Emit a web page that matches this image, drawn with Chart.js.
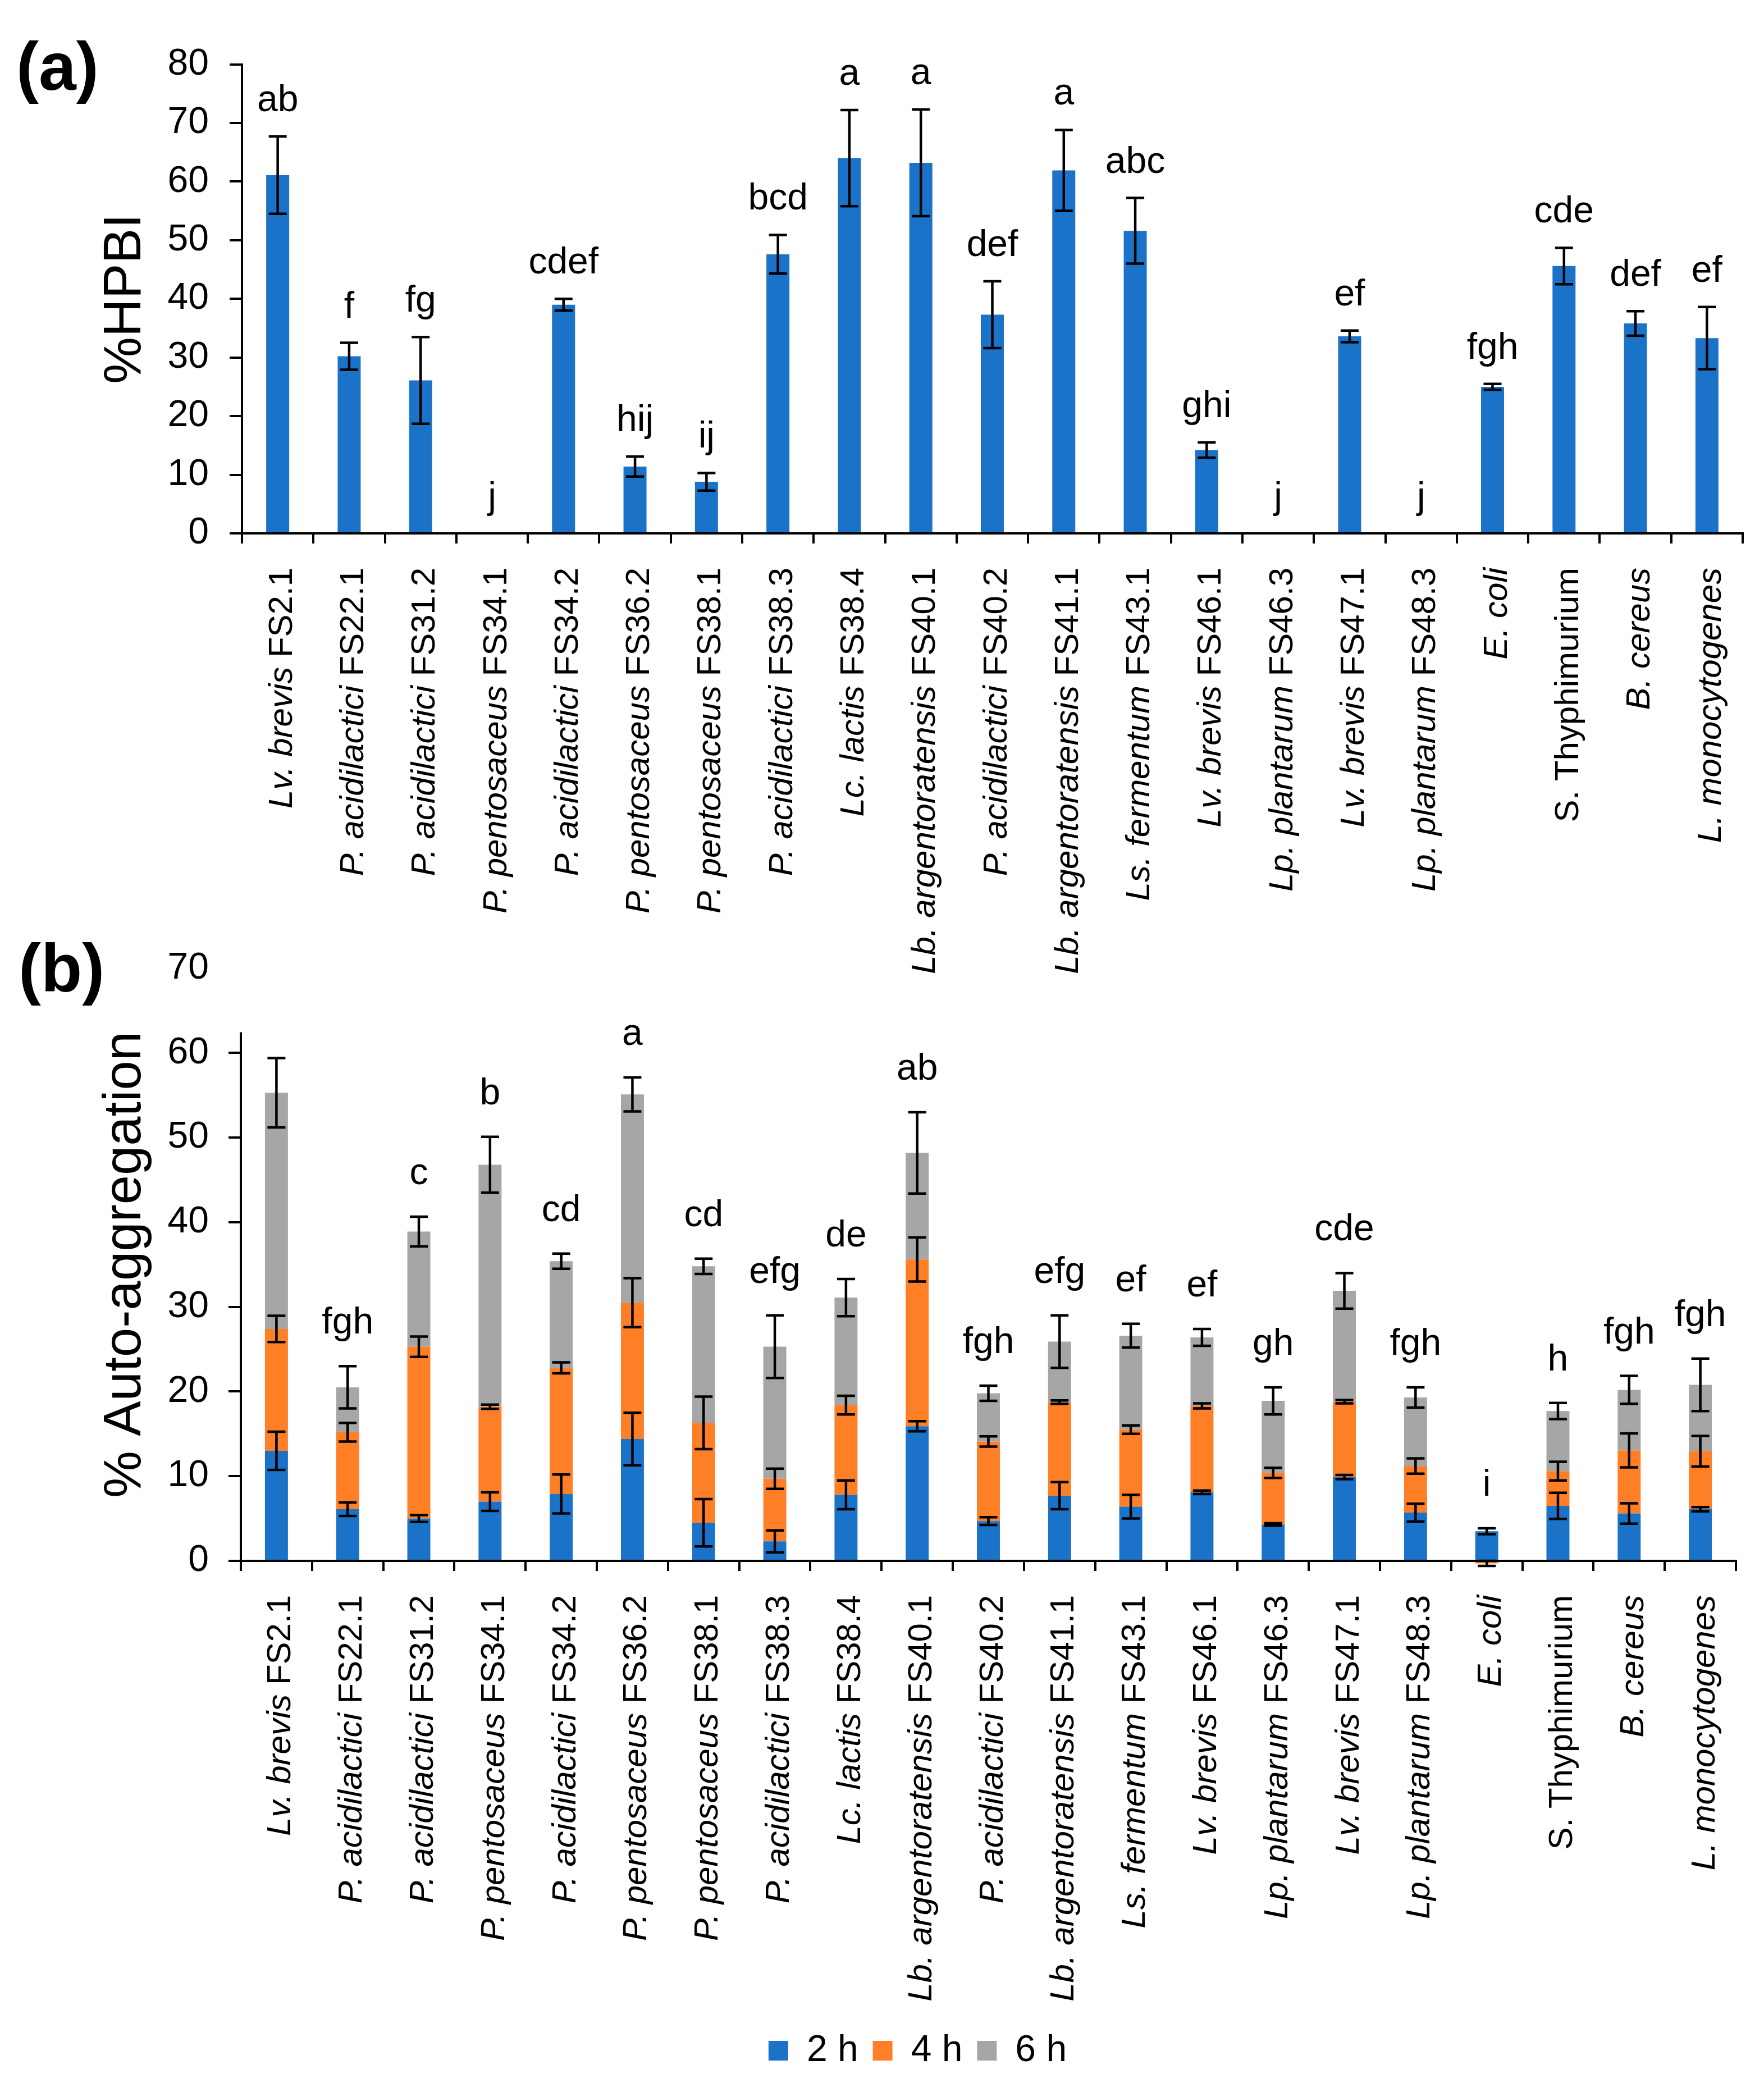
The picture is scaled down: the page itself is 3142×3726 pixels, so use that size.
<!DOCTYPE html>
<html><head><meta charset="utf-8">
<script src="https://cdn.jsdelivr.net/npm/chart.js@4.4.0/dist/chart.umd.min.js"></script>
<style>
html,body{margin:0;padding:0;background:#fff;}
#page{position:relative;width:3142px;height:3726px;background:#fff;overflow:hidden;}
canvas{position:absolute;left:0;}
.plabel{position:absolute;font-family:'Liberation Sans',Arial,sans-serif;font-weight:bold;font-size:120px;line-height:120px;color:#000;white-space:nowrap;}
</style></head><body>
<div id="page">
<canvas id="chartA" width="3142" height="1760" style="top:0;width:3142px;height:1760px"></canvas>
<canvas id="chartB" width="3142" height="2076" style="top:1650px;width:3142px;height:2076px"></canvas>
<div class="plabel" style="left:29px;top:58px">(a)</div>
<div class="plabel" style="left:33px;top:1664px">(b)</div>
</div>
<script>
// ---------- DATA ----------
const categories = ["Lv. brevis FS2.1","P. acidilactici FS22.1","P. acidilactici FS31.2","P. pentosaceus FS34.1","P. acidilactici FS34.2","P. pentosaceus FS36.2","P. pentosaceus FS38.1","P. acidilactici FS38.3","Lc. lactis FS38.4","Lb. argentoratensis FS40.1","P. acidilactici FS40.2","Lb. argentoratensis FS41.1","Ls. fermentum FS43.1","Lv. brevis FS46.1","Lp. plantarum FS46.3","Lv. brevis FS47.1","Lp. plantarum FS48.3","E. coli","S. Thyphimurium","B. cereus","L. monocytogenes"];
const speciesItalic = ["Lv. brevis","P. acidilactici","P. acidilactici","P. pentosaceus","P. acidilactici","P. pentosaceus","P. pentosaceus","P. acidilactici","Lc. lactis","Lb. argentoratensis","P. acidilactici","Lb. argentoratensis","Ls. fermentum","Lv. brevis","Lp. plantarum","Lv. brevis","Lp. plantarum","E. coli","","B. cereus","L. monocytogenes"];
const strainUpright = ["FS2.1","FS22.1","FS31.2","FS34.1","FS34.2","FS36.2","FS38.1","FS38.3","FS38.4","FS40.1","FS40.2","FS41.1","FS43.1","FS46.1","FS46.3","FS47.1","FS48.3","","S. Thyphimurium","",""];

const hpbiValues = [61.1,30.2,26.1,0,39.0,11.4,8.8,47.6,64.0,63.2,37.3,61.9,51.6,14.2,0,33.6,0,25.0,45.6,35.8,33.3];
const hpbiErrors = [6.6,2.3,7.4,0,1.0,1.7,1.5,3.3,8.2,9.1,5.7,6.9,5.6,1.3,0,1.0,0,0.5,3.1,2.1,5.3];
const hpbiLetters = ["ab","f","fg","j","cdef","hij","ij","bcd","a","a","def","a","abc","ghi","j","ef","j","fgh","cde","def","ef"];
const hpbiTicks = [0,10,20,30,40,50,60,70,80];

const aggSeriesNames = ["2 h","4 h","6 h"];
const agg2h = [13.0,6.1,5.0,7.0,7.9,14.4,4.5,2.3,7.8,15.9,4.7,7.7,6.4,8.1,4.3,9.9,5.7,3.5,6.5,5.6,6.1];
const agg2hErr = [2.25,0.8,0.4,1.1,2.3,3.1,2.8,1.3,1.7,0.6,0.45,1.6,1.4,0.2,0.15,0.25,1.05,0.35,1.55,1.2,0.25];
const agg4h = [14.4,9.1,20.3,11.2,14.9,16.1,11.8,7.4,10.6,19.7,9.4,11.05,9.1,10.2,6.1,8.9,5.5,-0.3,4.1,7.45,6.85];
const agg4hErr = [1.55,1.1,1.2,0.25,0.65,2.9,3.1,1.2,1.1,2.6,0.6,0.2,0.5,0.3,0.6,0.2,0.9,0.3,1.1,2.0,1.8];
const agg6h = [27.9,5.3,13.6,28.6,12.6,24.6,18.5,15.6,12.7,12.6,5.7,7.15,11.1,8.1,8.5,13.1,8.1,0,7.1,7.15,7.85];
const agg6hErr = [4.1,2.5,1.75,3.3,0.9,2.0,0.9,3.7,2.2,4.8,0.9,3.1,1.4,1.0,1.6,2.1,1.2,0,0.95,1.65,3.1];
const aggLetters = ["","fgh","c","b","cd","a","cd","efg","de","ab","fgh","efg","ef","ef","gh","cde","fgh","i","h","fgh","fgh"];
const aggTicks = [0,10,20,30,40,50,60,70];

// ---------- STYLE ----------
const FONT = "'Liberation Sans', Arial, sans-serif";
const BLUE = '#1a73c9', ORANGE = '#ff7f27', GRAY = '#a6a6a6';
Chart.defaults.font.family = FONT;
Chart.defaults.color = '#000';

function drawErr(ctx, x, y, h) {
  ctx.save();
  ctx.strokeStyle = '#000';
  ctx.lineWidth = 4.5;
  ctx.lineCap = 'butt';
  ctx.beginPath();
  ctx.moveTo(x, y - h); ctx.lineTo(x, y + h);
  ctx.moveTo(x - 16, y - h); ctx.lineTo(x + 16, y - h);
  ctx.moveTo(x - 16, y + h); ctx.lineTo(x + 16, y + h);
  ctx.stroke();
  ctx.restore();
}

function makeXLabelPlugin(offset) {
  return {
    id: 'xLabels',
    afterDraw(chart) {
      const ctx = chart.ctx, xs = chart.scales.x;
      const y0 = chart.chartArea.bottom + offset;
      ctx.save();
      ctx.fillStyle = '#000';
      for (let i = 0; i < categories.length; i++) {
        const x = xs.getPixelForTick(i) + 25;
        ctx.save();
        ctx.translate(x, y0);
        ctx.rotate(-Math.PI / 2);
        ctx.textAlign = 'right';
        ctx.textBaseline = 'alphabetic';
        const up = strainUpright[i], it = speciesItalic[i];
        ctx.font = '60px ' + FONT;
        let pos = 0;
        if (up) {
          ctx.fillText(up, 0, 0);
          pos -= ctx.measureText(up).width;
          if (it) pos -= ctx.measureText(' ').width;
        }
        if (it) {
          ctx.font = 'italic 60px ' + FONT;
          ctx.fillText(it, pos, 0);
        }
        ctx.restore();
      }
      ctx.restore();
    }
  };
}

const errPluginA = {
  id: 'errA',
  afterDatasetsDraw(chart) {
    const ctx = chart.ctx, ys = chart.scales.y;
    const unit = ys.getPixelForValue(0) - ys.getPixelForValue(1);
    const meta = chart.getDatasetMeta(0);
    ctx.save();
    meta.data.forEach((el, i) => {
      const e = hpbiErrors[i];
      let top = el.y;
      if (e > 0) { drawErr(ctx, el.x, el.y, e * unit); top = el.y - e * unit; }
      ctx.fillStyle = '#000';
      ctx.font = '66px ' + FONT;
      ctx.textAlign = 'center';
      ctx.textBaseline = 'alphabetic';
      ctx.fillText(hpbiLetters[i], el.x, top - 45);
    });
    ctx.restore();
  }
};

const errPluginB = {
  id: 'errB',
  beforeDatasetsDraw(chart) {
    const ctx = chart.ctx, ys = chart.scales.y;
    const x = chart.chartArea.left;
    ctx.save();
    ctx.strokeStyle = '#000';
    ctx.lineWidth = 4;
    ctx.beginPath();
    ctx.moveTo(x, ys.getPixelForValue(0) + 2);
    ctx.lineTo(x, ys.getPixelForValue(62.45));
    ctx.stroke();
    ctx.restore();
  },
  afterDatasetsDraw(chart) {
    const ctx = chart.ctx, ys = chart.scales.y;
    const unit = ys.getPixelForValue(0) - ys.getPixelForValue(1);
    const errSets = [agg2hErr, agg4hErr, agg6hErr];
    const tops = categories.map(() => Infinity);
    const xs = [];
    errSets.forEach((errs, d) => {
      const meta = chart.getDatasetMeta(d);
      meta.data.forEach((el, i) => {
        xs[i] = el.x;
        const e = errs[i];
        if (e > 0) drawErr(ctx, el.x, el.y, e * unit);
        tops[i] = Math.min(tops[i], el.y - e * unit);
      });
    });
    ctx.save();
    ctx.fillStyle = '#000';
    ctx.font = '66px ' + FONT;
    ctx.textAlign = 'center';
    ctx.textBaseline = 'alphabetic';
    aggLetters.forEach((t, i) => { if (t) ctx.fillText(t, xs[i], tops[i] - 58); });
    ctx.restore();
  }
};

// ---------- CHART A ----------
new Chart(document.getElementById('chartA'), {
  type: 'bar',
  data: {
    labels: categories,
    datasets: [{ label: '%HPBI', data: hpbiValues, backgroundColor: BLUE, borderWidth: 0,
      categoryPercentage: 1, barPercentage: 0.322 }]
  },
  options: {
    responsive: false, animation: false, devicePixelRatio: 1,
    layout: { padding: { top: 114.5, left: 0, right: 38, bottom: 0 } },
    plugins: { legend: { display: false }, tooltip: { enabled: false } },
    scales: {
      x: {
        grid: { display: true, drawOnChartArea: false, drawTicks: true, tickLength: 18, color: '#000', lineWidth: 4, offset: true },
        border: { display: true, color: '#000', width: 4 },
        ticks: { display: false },
        afterFit: s => { s.height = 810; }
      },
      y: {
        min: 0, max: 80,
        afterBuildTicks: s => { s.ticks = hpbiTicks.map(v => ({ value: v })); },
        ticks: { font: { size: 66 }, color: '#000', padding: 37 },
        grid: { drawOnChartArea: false, drawTicks: true, tickLength: 22, color: '#000', lineWidth: 4 },
        border: { display: true, color: '#000', width: 4 },
        title: { display: true, text: '%HPBI', color: '#000', font: { size: 94, lineHeight: 1 }, padding: { top: 177, bottom: 0 } },
        afterFit: s => { s.width = 431; }
      }
    }
  },
  plugins: [errPluginA, makeXLabelPlugin(61)]
});

// ---------- CHART B ----------
new Chart(document.getElementById('chartB'), {
  type: 'bar',
  data: {
    labels: categories,
    datasets: [
      { label: aggSeriesNames[0], data: agg2h, backgroundColor: BLUE, borderWidth: 0, categoryPercentage: 1, barPercentage: 0.323, clip: false },
      { label: aggSeriesNames[1], data: agg4h, backgroundColor: ORANGE, borderWidth: 0, categoryPercentage: 1, barPercentage: 0.323, clip: false },
      { label: aggSeriesNames[2], data: agg6h, backgroundColor: GRAY, borderWidth: 0, categoryPercentage: 1, barPercentage: 0.323, clip: false }
    ]
  },
  options: {
    responsive: false, animation: false, devicePixelRatio: 1,
    layout: { padding: { top: 67.5, left: 177, right: 50, bottom: 30.5 } },
    plugins: {
      tooltip: { enabled: false },
      legend: {
        display: true, position: 'bottom', align: 'center',
        labels: { boxWidth: 35, boxHeight: 35, padding: 26, color: '#000', font: { size: 66 } }
      }
    },
    scales: {
      x: {
        stacked: true,
        grid: { display: true, drawOnChartArea: false, drawTicks: true, tickLength: 18, color: '#000', lineWidth: 4, offset: true },
        border: { display: true, color: '#000', width: 4 },
        ticks: { display: false },
        afterFit: s => { s.height = 813.5; }
      },
      y: {
        stacked: true, min: 0, max: 70,
        afterBuildTicks: s => { s.ticks = aggTicks.map(v => ({ value: v })); },
        ticks: { font: { size: 66 }, color: '#000', padding: 35 },
        grid: { drawOnChartArea: false, drawTicks: true, tickLength: 22, lineWidth: 4,
          color: c => (c.tick && c.tick.value === 70) ? 'rgba(0,0,0,0)' : '#000' },
        border: { display: false },
        title: { display: true, text: '% Auto-aggregation', color: '#000', font: { size: 94, lineHeight: 1 }, padding: { top: 0, bottom: 0 } },
        afterFit: s => { s.width = 252; }
      }
    }
  },
  plugins: [errPluginB, makeXLabelPlugin(61)]
});
</script>
</body></html>
